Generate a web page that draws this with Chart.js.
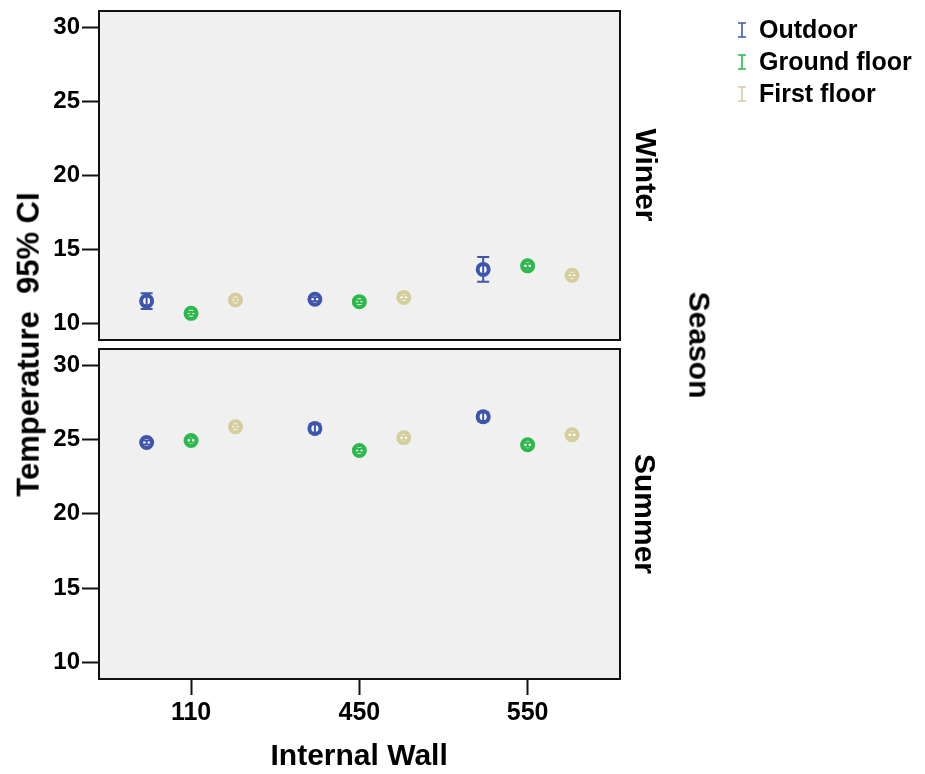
<!DOCTYPE html>
<html>
<head>
<meta charset="utf-8">
<script src="https://cdn.jsdelivr.net/npm/chart.js@4.4.1/dist/chart.umd.min.js"></script>
<style>
  html, body { margin: 0; padding: 0; background: #fff; }
  #wrap { position: relative; width: 925px; height: 774px; overflow: hidden; font-family: "Liberation Sans", Arial, sans-serif; }
  canvas { position: absolute; left: 0; }
  .lbl { position: absolute; font-weight: bold; color: #000; white-space: pre; transform-origin: center center; line-height: 1; }
</style>
</head>
<body>
<div id="wrap">
  <canvas id="top" width="925" height="345" style="top:0;width:925px;height:345px"></canvas>
  <canvas id="bot" width="925" height="429" style="top:345px;width:925px;height:429px"></canvas>
  <div class="lbl" id="ytitle" style="font-size:31px;"></div>
  <div class="lbl" id="xtitle" style="font-size:30px;"></div>
  <div class="lbl" id="panel1" style="font-size:30px;"></div>
  <div class="lbl" id="panel2" style="font-size:30px;"></div>
  <div class="lbl" id="facet" style="font-size:30px;"></div>
</div>
<script>
// ---- data ----
const categories = ['110', '450', '550'];
const seriesNames = ['Outdoor', 'Ground floor', 'First floor'];
const seriesColors = ['#3d56ab', '#2cb84a', '#d4cd9c'];
const panelNames = ['Winter', 'Summer'];
const yTicks = [10, 15, 20, 25, 30];

const winterOutdoor   = [11.50, 11.62, 13.64];
const winterOutdoorCI = [0.53, 0.14, 0.84];
const winterGround    = [10.67, 11.46, 13.88];
const winterGroundCI  = [0.10, 0.10, 0.14];
const winterFirst     = [11.57, 11.75, 13.24];
const winterFirstCI   = [0.10, 0.12, 0.12];

const summerOutdoor   = [24.80, 25.75, 26.54];
const summerOutdoorCI = [0.14, 0.30, 0.30];
const summerGround    = [24.94, 24.26, 24.65];
const summerGroundCI  = [0.14, 0.12, 0.14];
const summerFirst     = [25.86, 25.12, 25.32];
const summerFirstCI   = [0.10, 0.14, 0.14];

const xTitle = 'Internal Wall';
const yTitle = 'Temperature  95% CI';
const facetTitle = 'Season';

// ---- layout helpers ----
const groupOffsets = [-0.264, 0, 0.264];
const FONT = '"Liberation Sans", Arial, sans-serif';

function makeDatasets(vals, cis) {
  return vals.map((v, s) => ({
    label: seriesNames[s],
    data: v.map((y, i) => ({ x: i + groupOffsets[s], y: y, ci: cis[s][i] })),
    backgroundColor: '#ffffff',
    borderColor: seriesColors[s],
    pointRadius: 5.5,
    pointHoverRadius: 5.5,
    borderWidth: 4,
    pointBorderWidth: 4,
    showLine: false
  }));
}

const panelPlugin = {
  id: 'panel',
  beforeDraw(chart) {
    const a = chart.chartArea, ctx = chart.ctx;
    ctx.save();
    ctx.fillStyle = '#f0f0f0';
    ctx.fillRect(a.left, a.top, a.right - a.left, a.bottom - a.top);
    ctx.restore();
  },
  afterDatasetsDraw(chart) {
    const ctx = chart.ctx, ys = chart.scales.y, xs = chart.scales.x;
    ctx.save();
    chart.data.datasets.forEach((ds) => {
      ctx.strokeStyle = ds.borderColor;
      ctx.lineWidth = 2;
      ds.data.forEach((p) => {
        const px = xs.getPixelForValue(p.x);
        const y1 = ys.getPixelForValue(p.y + p.ci);
        const y2 = ys.getPixelForValue(p.y - p.ci);
        ctx.beginPath();
        ctx.moveTo(px, y1); ctx.lineTo(px, y2);
        ctx.moveTo(px - 6, y1); ctx.lineTo(px + 6, y1);
        ctx.moveTo(px - 6, y2); ctx.lineTo(px + 6, y2);
        ctx.stroke();
      });
    });
    ctx.restore();
  },
  afterDraw(chart) {
    const a = chart.chartArea, ctx = chart.ctx;
    ctx.save();
    ctx.strokeStyle = '#111';
    ctx.lineWidth = 2;
    ctx.strokeRect(a.left, a.top, a.right - a.left, a.bottom - a.top);
    ctx.restore();
  }
};

const legendPlugin = {
  id: 'customLegend',
  afterDraw(chart) {
    const ctx = chart.ctx;
    ctx.save();
    seriesNames.forEach((name, i) => {
      const cy = 30 + i * 32;
      const cx = 742;
      ctx.strokeStyle = seriesColors[i];
      ctx.lineWidth = 1.6;
      ctx.beginPath();
      ctx.moveTo(cx, cy - 7); ctx.lineTo(cx, cy + 7);
      ctx.moveTo(cx - 4, cy - 7); ctx.lineTo(cx + 4, cy - 7);
      ctx.moveTo(cx - 4, cy + 7); ctx.lineTo(cx + 4, cy + 7);
      ctx.stroke();
      ctx.fillStyle = '#000';
      ctx.font = 'bold 25px ' + FONT;
      ctx.textBaseline = 'middle';
      ctx.fillText(name, 759, cy + 1);
    });
    ctx.restore();
  }
};

function makeChart(id, datasets, isBottom, extraPlugins) {
  return new Chart(document.getElementById(id), {
    type: 'scatter',
    data: { datasets: datasets },
    plugins: [panelPlugin].concat(extraPlugins),
    options: {
      responsive: false,
      animation: false,
      events: [],
      layout: { autoPadding: false, padding: { left: 0, right: 305, top: isBottom ? 4 : 11, bottom: isBottom ? 0 : 5 } },
      plugins: { legend: { display: false }, tooltip: { enabled: false }, title: { display: false } },
      scales: {
        x: {
          type: 'linear',
          min: -0.547, max: 2.549,
          display: isBottom,
          afterBuildTicks(scale) { scale.ticks = categories.map((c, i) => ({ value: i })); },
          afterFit(scale) {
            if (isBottom) scale.height = 95;
            scale.paddingLeft = 0; scale.paddingRight = 0;
          },
          ticks: {
            callback: (v) => categories[v],
            color: '#000',
            font: { family: FONT, size: 25, weight: 'bold' },
            padding: 3,
            maxRotation: 0,
            autoSkip: false
          },
          grid: { drawOnChartArea: false, drawTicks: true, tickLength: 16, tickWidth: 2, tickColor: '#111', color: '#111' },
          border: { display: false }
        },
        y: {
          type: 'linear',
          min: 8.87, max: 31.1,
          afterBuildTicks(scale) { scale.ticks = yTicks.map((v) => ({ value: v })); },
          afterFit(scale) {
            scale.width = 99;
            scale.paddingTop = 0; scale.paddingBottom = 0;
          },
          ticks: {
            color: '#000',
            font: { family: FONT, size: 24, weight: 'bold' },
            padding: 2,
            autoSkip: false
          },
          grid: { drawOnChartArea: false, drawTicks: true, tickLength: 17, tickWidth: 2, tickColor: '#111', color: '#111' },
          border: { display: false }
        }
      }
    }
  });
}

const topChart = makeChart('top',
  makeDatasets([winterOutdoor, winterGround, winterFirst], [winterOutdoorCI, winterGroundCI, winterFirstCI]),
  false, [legendPlugin]);
const botChart = makeChart('bot',
  makeDatasets([summerOutdoor, summerGround, summerFirst], [summerOutdoorCI, summerGroundCI, summerFirstCI]),
  true, []);

// ---- titles as real text ----
function place(id, text, cx, cy, rot) {
  const el = document.getElementById(id);
  el.textContent = text;
  const w = el.offsetWidth, h = el.offsetHeight;
  el.style.left = (cx - w / 2) + 'px';
  el.style.top = (cy - h / 2) + 'px';
  if (rot) el.style.transform = 'rotate(' + rot + 'deg)';
}
place('ytitle', yTitle, 28, 344, -90);
place('xtitle', xTitle, 359, 755, 0);
place('panel1', panelNames[0], 645, 175, 90);
place('panel2', panelNames[1], 645, 514, 90);
place('facet', facetTitle, 699, 345, 90);
</script>
</body>
</html>
